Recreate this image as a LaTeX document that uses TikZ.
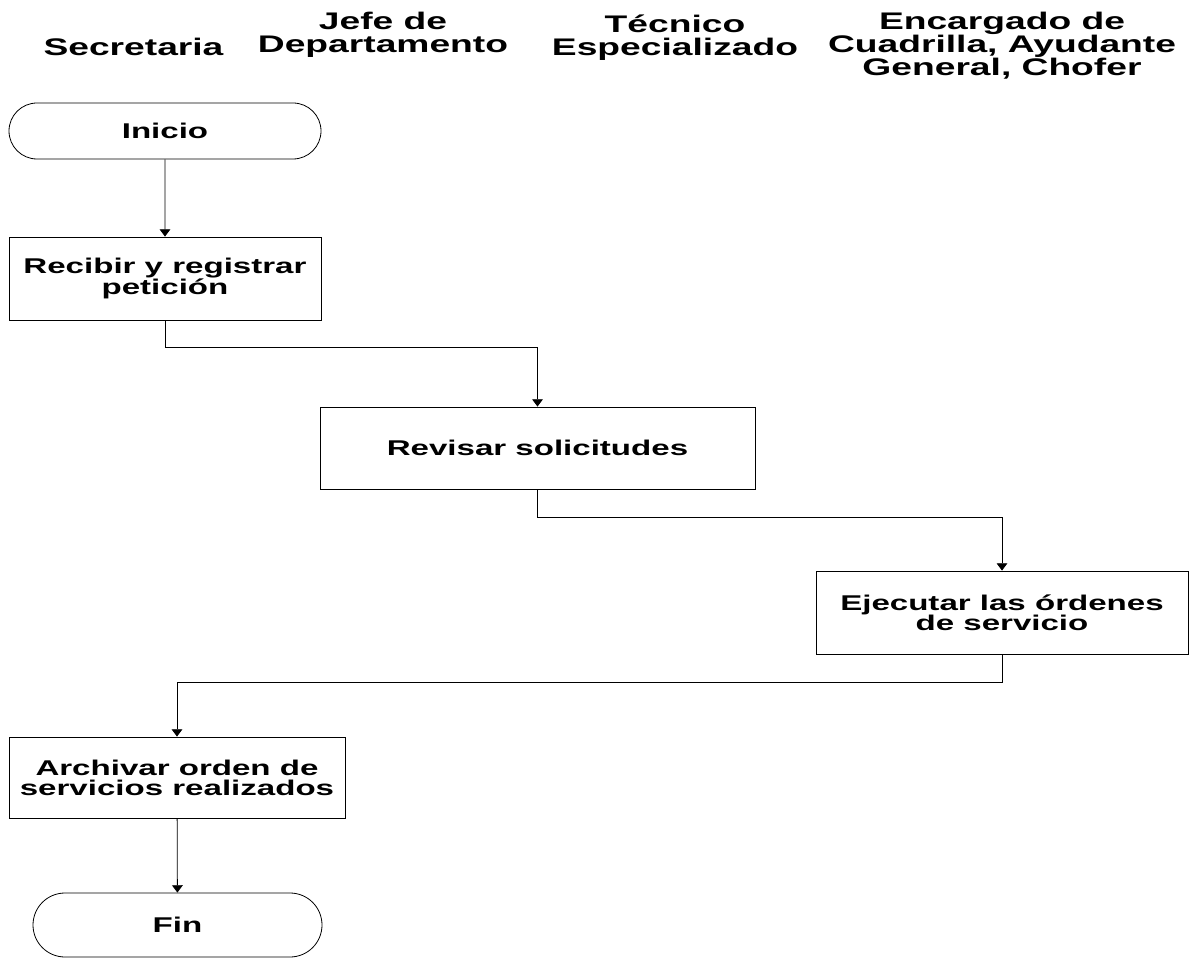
\documentclass[tikz,border=0pt]{standalone}
\usepackage{fontspec}
\setmainfont{Liberation Sans}[FakeStretch=1.55]
\usetikzlibrary{arrows.meta,shapes.misc}
\tikzset{
  lane/.style={align=center, inner sep=0pt, anchor=base, font=\fontsize{18}{17.5}\selectfont\bfseries},
  stepbox/.style={rectangle, draw=black, align=center, inner sep=0pt, font=\fontsize{16}{15}\selectfont\bfseries},
  term/.style={rounded rectangle, draw=black, align=center, inner sep=0pt, font=\fontsize{16}{15}\selectfont\bfseries}
}

\begin{document}
\begin{tikzpicture}[x=0.75pt, y=-0.75pt, line width=0.6pt, ->, >={Triangle[width=8pt,length=5.5pt]}]
\useasboundingbox (0,0) rectangle (1193,959);
% lane titles
\node [lane] (sec) at (133.5,56) {Secretaria};
\node [lane] (jefe) at (383,53) {Jefe de\\Departamento};
\node [lane] (tec) at (675,56) {Técnico\\Especializado};
\node [lane] (enc) at (1002,76) {Encargado de\\Cuadrilla, Ayudante\\General, Chofer};
% steps
\node [term, minimum width=234pt, minimum height=42pt] (inicio) at (165,131) {Inicio};
\node [stepbox, minimum width=234pt, minimum height=62.25pt] (recibir) at (165,278.5) {Recibir y registrar\\petición};
\node [stepbox, minimum width=326.25pt, minimum height=61.5pt] (revisar) at (537.5,448) {Revisar solicitudes};
\node [stepbox, minimum width=279pt, minimum height=62.25pt] (ejecutar) at (1002,612.5) {Ejecutar las órdenes\\de servicio};
\node [stepbox, minimum width=252pt, minimum height=60.75pt] (archivar) at (177,777.5) {Archivar orden de\\servicios realizados};
\node [term, minimum width=216.75pt, minimum height=48pt] (fin) at (177.5,925) {Fin};
% flow
\draw (inicio) -- (recibir);
\draw (recibir.south) -- ++(0,27) -| (revisar.north);
\draw (revisar.south) -- ++(0,28) -| (ejecutar.north);
\draw (ejecutar.south) -- ++(0,28) -| (archivar.north);
\draw (archivar) -- (fin);
\end{tikzpicture}
\end{document}
